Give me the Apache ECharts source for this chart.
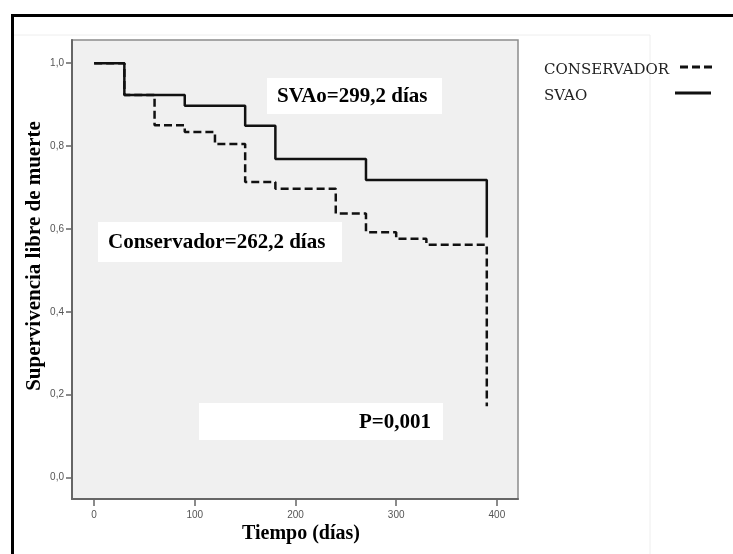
<!DOCTYPE html>
<html>
<head>
<meta charset="utf-8">
<title>Supervivencia libre de muerte</title>
<script src="https://cdn.jsdelivr.net/npm/echarts@6/dist/echarts.min.js"></script>
<style>
  html, body { margin: 0; padding: 0; background: #ffffff; }
  #chart { width: 733px; height: 554px; }
</style>
</head>
<body>
<div id="chart"></div>
<script>
// Kaplan-Meier curves: time (days) at which each step occurs and survival after it
const conservadorDias = [0, 30, 60, 90, 120, 150, 180, 240, 270, 300, 330, 390];
const conservadorSuperv = [1.0, 0.923, 0.85, 0.834, 0.805, 0.713, 0.697, 0.637, 0.592, 0.576, 0.562, 0.172];
const svaoDias = [0, 30, 90, 150, 180, 270, 390];
const svaoSuperv = [1.0, 0.923, 0.897, 0.849, 0.769, 0.718, 0.579];

// axis ticks
const xTicks = [0, 100, 200, 300, 400];
const yTicks = [0, 0.2, 0.4, 0.6, 0.8, 1.0];

// annotation and legend texts
const textoSvao = 'SVAo=299,2 días';
const textoConservador = 'Conservador=262,2 días';
const textoP = 'P=0,001';
const leyenda = ['CONSERVADOR', 'SVAO'];

const serif = '"Liberation Serif", "Times New Roman", serif';
const pairs = (xs, ys) => xs.map((x, i) => [x, ys[i]]);

const chart = echarts.init(document.getElementById('chart'), null, { renderer: 'canvas' });

function box(x, y, w, h, text, align) {
  return {
    type: 'group',
    z: 50,
    children: [
      { type: 'rect', shape: { x: x, y: y, width: w, height: h }, style: { fill: '#ffffff' } },
      {
        type: 'text',
        style: {
          text: text,
          x: align === 'right' ? x + w - 12 : x + 10,
          y: y + h / 2 + 1,
          align: align || 'left',
          verticalAlign: 'middle',
          font: 'bold 21px ' + serif,
          fill: '#000000'
        }
      }
    ]
  };
}

function legendItem(y, label, x1, x2, dash) {
  return {
    type: 'group',
    z: 50,
    children: [
      {
        type: 'text',
        style: {
          text: label, x: 544, y: y, verticalAlign: 'middle',
          font: '15px "DejaVu Serif", serif', fill: '#222222'
        }
      },
      {
        type: 'line',
        shape: { x1: x1, y1: y - 3, x2: x2, y2: y - 3 },
        style: { stroke: '#111111', lineWidth: 3, lineDash: dash }
      }
    ]
  };
}

chart.setOption({
  animation: false,
  backgroundColor: '#ffffff',
  grid: {
    left: 72, right: 215, top: 40, bottom: 55,
    show: true,
    backgroundColor: '#f0f0f0',
    borderColor: '#8c8c8c',
    borderWidth: 1.5
  },
  xAxis: {
    type: 'value',
    min: -22,
    max: 421,
    axisLine: { show: true, onZero: false, lineStyle: { color: '#666666', width: 2 } },
    axisTick: { show: true, length: 7, customValues: xTicks, lineStyle: { color: '#666666', width: 1.5 } },
    axisLabel: {
      customValues: xTicks,
      margin: 11,
      fontFamily: '"Liberation Sans", Arial, sans-serif',
      fontSize: 10,
      color: '#555555'
    },
    splitLine: { show: false }
  },
  yAxis: {
    type: 'value',
    min: -0.052,
    max: 1.056,
    axisLine: { show: true, onZero: false, lineStyle: { color: '#666666', width: 2 } },
    axisTick: { show: true, length: 6, customValues: yTicks, lineStyle: { color: '#666666', width: 1.5 } },
    axisLabel: {
      customValues: yTicks,
      margin: 8,
      fontFamily: '"Liberation Sans", Arial, sans-serif',
      fontSize: 10,
      color: '#555555',
      formatter: v => v.toFixed(1).replace('.', ',')
    },
    splitLine: { show: false }
  },
  series: [
    {
      name: leyenda[0],
      type: 'line',
      step: 'end',
      showSymbol: false,
      symbol: 'none',
      data: pairs(conservadorDias, conservadorSuperv),
      lineStyle: { color: '#111111', width: 2.5, type: [8, 4] },
      z: 2
    },
    {
      name: leyenda[1],
      type: 'line',
      step: 'end',
      showSymbol: false,
      symbol: 'none',
      data: pairs(svaoDias, svaoSuperv),
      lineStyle: { color: '#111111', width: 2.5, type: 'solid' },
      z: 3
    }
  ],
  graphic: [
    // outer chart frame
    {
      type: 'rect', z: 0, silent: true,
      shape: { x: 13, y: 35, width: 637, height: 530 },
      style: { fill: 'none', stroke: '#eeeeee', lineWidth: 1 }
    },
    {
      type: 'polyline', z: 60, silent: true,
      shape: { points: [[12.5, 560], [12.5, 15.5], [740, 15.5]] },
      style: { fill: 'none', stroke: '#000000', lineWidth: 3 }
    },
    // axis titles
    {
      type: 'text', z: 50,
      x: 35, y: 256, rotation: Math.PI / 2,
      style: {
        text: 'Supervivencia libre de muerte',
        align: 'center', verticalAlign: 'middle',
        font: 'bold 21px ' + serif, fill: '#000000'
      }
    },
    {
      type: 'text', z: 50,
      x: 301, y: 534,
      style: {
        text: 'Tiempo (días)',
        align: 'center', verticalAlign: 'middle',
        font: 'bold 20px ' + serif, fill: '#000000'
      }
    },
    box(267, 78, 175, 36, textoSvao, 'left'),
    box(98, 222, 244, 40, textoConservador, 'left'),
    box(199, 403, 244, 37, textoP, 'right'),
    // legend
    legendItem(70, leyenda[0], 680, 712, [8, 4]),
    legendItem(96, leyenda[1], 675, 711, null)
  ]
});
</script>
</body>
</html>
